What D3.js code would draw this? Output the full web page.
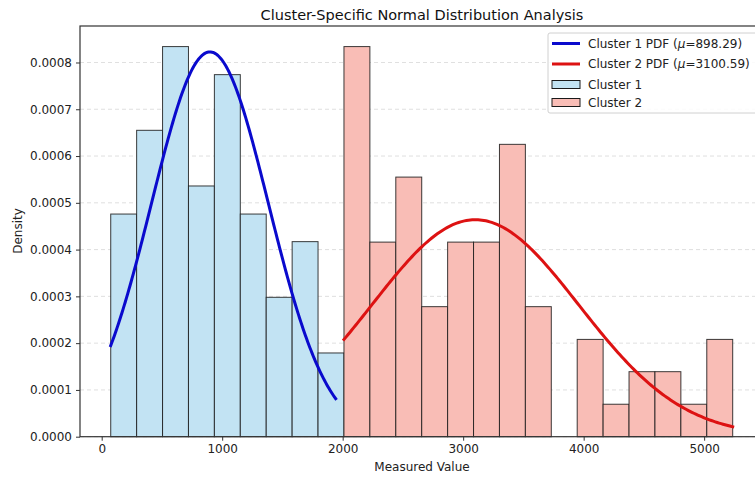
<!DOCTYPE html>
<html>
<head>
<meta charset="utf-8">
<script src="https://cdn.jsdelivr.net/npm/d3@7"></script>
<style>
  html, body { margin: 0; padding: 0; background: #fff; overflow: hidden; }
  svg { display: block; font-family: "DejaVu Sans", sans-serif; }
</style>
</head>
<body>
<svg id="chart" width="755" height="477"></svg>
<script>
// Shared histogram bin edges (24 bins over the full measured range)
const binEdges = [75, 290.1, 505.2, 720.2, 935.3, 1150.4, 1365.5, 1580.6, 1795.6,
  2010.7, 2225.8, 2440.9, 2656.0, 2871.0, 3086.1, 3301.2, 3516.3, 3731.4, 3946.4,
  4161.5, 4376.6, 4591.7, 4806.8, 5021.8, 5236.9];

// Density per bin for each cluster (cluster 1 occupies bins 0-8, cluster 2 bins 9-23)
const cluster1Density = [0.000476, 0.000655, 0.000834, 0.000536, 0.000774, 0.000476, 0.000298, 0.000417, 0.000179];
const cluster1FirstBin = 0;
const cluster2Density = [0.000834, 0.000416, 0.000555, 0.000278, 0.000416, 0.000416, 0.000625, 0.000278, 0,
  0.000208, 0.0000694, 0.000139, 0.000139, 0.0000694, 0.000208];
const cluster2FirstBin = 9;

// Fitted normal parameters: [mean, std, min, max] of each cluster
const cluster1Fit = [898.29, 485, 75, 1942];
const cluster2Fit = [3100.59, 860, 2011, 5237];

const xTicks = [0, 1000, 2000, 3000, 4000, 5000];
const yTicks = [0, 0.0001, 0.0002, 0.0003, 0.0004, 0.0005, 0.0006, 0.0007, 0.0008];

const svg = d3.select("#chart");
const plotLeft = 80, plotRight = 765, plotTop = 26, plotBottom = 436.7;

const x = d3.scaleLinear().domain([-180, 5505]).range([plotLeft, plotRight]);
const y = d3.scaleLinear().domain([0, 0.000878]).range([plotBottom, plotTop]);

// horizontal dashed grid
svg.append("g").selectAll("line").data(yTicks).join("line")
  .attr("x1", plotLeft).attr("x2", plotRight)
  .attr("y1", d => y(d)).attr("y2", d => y(d))
  .attr("stroke", "#b0b0b0").attr("stroke-opacity", 0.5)
  .attr("stroke-width", 0.8).attr("stroke-dasharray", "4,3");

function bars(density, firstBin, fill) {
  const data = density.map((d, i) => ({ x0: binEdges[firstBin + i], x1: binEdges[firstBin + i + 1], v: d }));
  svg.append("g").selectAll("rect").data(data.filter(d => d.v > 0)).join("rect")
    .attr("x", d => x(d.x0)).attr("width", d => x(d.x1) - x(d.x0))
    .attr("y", d => y(d.v)).attr("height", d => y(0) - y(d.v))
    .attr("fill", fill).attr("stroke", "#1a1a1a").attr("stroke-opacity", 0.85)
    .attr("stroke-width", 1);
}
bars(cluster1Density, cluster1FirstBin, "#c2e3f3");
bars(cluster2Density, cluster2FirstBin, "#f9bdb6");

function pdfCurve(fit, color) {
  const [mu, sd, lo, hi] = fit;
  const pts = d3.range(0, 201).map(i => {
    const v = lo + (hi - lo) * i / 200;
    const z = (v - mu) / sd;
    return [v, Math.exp(-0.5 * z * z) / (sd * Math.sqrt(2 * Math.PI))];
  });
  svg.append("path").datum(pts)
    .attr("d", d3.line().x(d => x(d[0])).y(d => y(d[1])))
    .attr("fill", "none").attr("stroke", color).attr("stroke-width", 3)
    .attr("stroke-linecap", "square");
}
pdfCurve(cluster1Fit, "#0a0acd");
pdfCurve(cluster2Fit, "#dd1212");

// axes
const xAxis = d3.axisBottom(x).tickValues(xTicks).tickFormat(d3.format("d")).tickSizeOuter(0).tickSize(4).tickPadding(4);
const yAxis = d3.axisLeft(y).tickValues(yTicks).tickFormat(d3.format(".4f")).tickSizeOuter(0).tickSize(4).tickPadding(4);
const gx = svg.append("g").attr("transform", `translate(0,${plotBottom})`).call(xAxis);
const gy = svg.append("g").attr("transform", `translate(${plotLeft},0)`).call(yAxis);
[gx, gy].forEach(g => {
  g.select(".domain").remove();
  g.selectAll(".tick line").attr("stroke", "#333").attr("stroke-width", 1);
  g.selectAll(".tick text").attr("fill", "#222").style("font-size", "12px")
    .style("font-family", "'DejaVu Sans', sans-serif");
});

// spines
svg.append("rect").attr("x", plotLeft).attr("y", plotTop).attr("width", plotRight - plotLeft).attr("height", plotBottom - plotTop)
  .attr("fill", "none").attr("stroke", "#333").attr("stroke-width", 1.2);

// titles
svg.append("text").attr("x", 422).attr("y", 19.5).attr("text-anchor", "middle")
  .style("font-size", "14.5px").attr("fill", "#111").text("Cluster-Specific Normal Distribution Analysis");
svg.append("text").attr("x", 422).attr("y", 471).attr("text-anchor", "middle")
  .style("font-size", "12px").attr("fill", "#222").text("Measured Value");
svg.append("text").attr("transform", "translate(22,231) rotate(-90)").attr("text-anchor", "middle")
  .style("font-size", "12px").attr("fill", "#222").text("Density");

// legend
const lg = svg.append("g");
lg.append("rect").attr("x", 548).attr("y", 33).attr("width", 212).attr("height", 80).attr("rx", 2)
  .attr("fill", "#fff").attr("fill-opacity", 0.85).attr("stroke", "#d0d0d0");
const legendItems = [
  { type: "line", color: "#0a0acd", label: "Cluster 1 PDF (", mu: cluster1Fit[0] },
  { type: "line", color: "#dd1212", label: "Cluster 2 PDF (", mu: cluster2Fit[0] },
  { type: "patch", color: "#c2e3f3", label: "Cluster 1" },
  { type: "patch", color: "#f9bdb6", label: "Cluster 2" }
];
const rowY = [43.5, 64, 84.5, 102.5];
legendItems.forEach((it, i) => {
  const cy = rowY[i];
  if (it.type === "line") {
    lg.append("line").attr("x1", 552).attr("x2", 580).attr("y1", cy).attr("y2", cy)
      .attr("stroke", it.color).attr("stroke-width", 3);
  } else {
    lg.append("rect").attr("x", 552).attr("y", cy - 4).attr("width", 28).attr("height", 8)
      .attr("fill", it.color).attr("stroke", "#1a1a1a").attr("stroke-width", 1);
  }
  const t = lg.append("text").attr("x", 588).attr("y", cy + 4.3).style("font-size", "12px").attr("fill", "#222");
  if (it.type === "line") {
    t.append("tspan").text(it.label);
    t.append("tspan").style("font-style", "italic").text("\u03bc");
    t.append("tspan").text("=" + it.mu.toFixed(2) + ")");
  } else {
    t.text(it.label);
  }
});
</script>
</body>
</html>
